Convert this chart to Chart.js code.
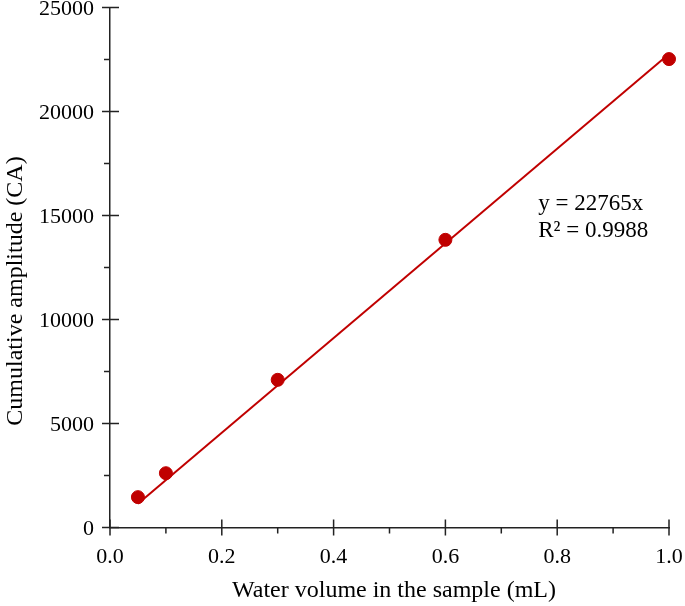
<!DOCTYPE html>
<html>
<head>
<meta charset="utf-8">
<script src="https://cdn.jsdelivr.net/npm/chart.js@4"></script>
<style>
  html, body { margin: 0; padding: 0; background: #fff; }
  #wrap { width: 685px; height: 606px; }
</style>
</head>
<body>
<div id="wrap"><canvas id="chart" width="685" height="606"></canvas></div>
<script>
// measured points
const waterVolume = [0.05, 0.1, 0.3, 0.6, 1.0];
const amplitude = [1460, 2610, 7100, 13830, 22520];
// fitted line y = 22765x
const fitX = [0.05, 1.0];
const fitY = [1138, 22765];
const xTicks = [0, 0.2, 0.4, 0.6, 0.8, 1.0];
const yTicks = [0, 5000, 10000, 15000, 20000, 25000];
const xTitle = 'Water volume in the sample (mL)';
const yTitle = 'Cumulative amplitude (CA)';
const equationText = ['y = 22765x', 'R\u00b2 = 0.9988'];

const red = '#c00000';
const axisColor = '#222';
const textColor = '#000';
const serif = '"Liberation Serif", "Times New Roman", serif';

// tick marks (major ones cross the axis, minor ones point outward), titles, equation
const decorations = {
  id: 'decorations',
  afterDraw(chart) {
    const ctx = chart.ctx;
    const xs = chart.scales.x, ys = chart.scales.y;
    const x0 = xs.left, y0 = ys.bottom;
    ctx.save();
    ctx.strokeStyle = axisColor;
    ctx.lineWidth = 1.5;
    ctx.beginPath();
    for (let i = 0; i <= 10; i++) {
      const px = xs.getPixelForValue(i / 10);
      if (i % 2 === 0) { ctx.moveTo(px, y0 - 8); ctx.lineTo(px, y0 + 8); }
      else { ctx.moveTo(px, y0); ctx.lineTo(px, y0 + 6); }
    }
    for (let i = 0; i <= 10; i++) {
      const py = ys.getPixelForValue(i * 2500);
      if (i % 2 === 0) { ctx.moveTo(x0 - 8, py); ctx.lineTo(x0 + 9, py); }
      else { ctx.moveTo(x0 - 6, py); ctx.lineTo(x0, py); }
    }
    ctx.stroke();

    ctx.fillStyle = textColor;
    ctx.textBaseline = 'middle';

    // axis titles
    ctx.font = '24px ' + serif;
    ctx.textAlign = 'center';
    ctx.fillText(xTitle, 394, 591);
    ctx.save();
    ctx.translate(16, 291);
    ctx.rotate(-Math.PI / 2);
    ctx.fillText(yTitle, 0, 0);
    ctx.restore();

    // regression text
    ctx.font = '23px ' + serif;
    ctx.textAlign = 'left';
    const tx = xs.getPixelForValue(0.766);
    ctx.fillText(equationText[0], tx, ys.getPixelForValue(15540));
    ctx.fillText(equationText[1], tx, ys.getPixelForValue(14240));
    ctx.restore();
  }
};

new Chart(document.getElementById('chart'), {
  type: 'scatter',
  data: {
    datasets: [
      {
        label: 'fit',
        type: 'line',
        data: fitX.map((x, i) => ({ x: x, y: fitY[i] })),
        borderColor: red,
        borderWidth: 2,
        pointRadius: 0,
        fill: false,
        tension: 0,
        clip: false
      },
      {
        label: 'samples',
        data: waterVolume.map((x, i) => ({ x: x, y: amplitude[i] })),
        backgroundColor: red,
        borderColor: red,
        pointRadius: 6.5,
        pointHoverRadius: 6.5,
        clip: false
      }
    ]
  },
  options: {
    responsive: false,
    animation: false,
    layout: { padding: { left: 0, right: 16, top: 7, bottom: 0 } },
    plugins: { legend: { display: false }, tooltip: { enabled: false } },
    scales: {
      x: {
        type: 'linear',
        min: 0,
        max: 1,
        afterBuildTicks: s => { s.ticks = xTicks.map(v => ({ value: v })); },
        afterFit: s => { s.height = 78.5; s.paddingLeft = 0; s.paddingRight = 0; },
        grid: { display: true, drawOnChartArea: false, drawTicks: false },
        border: { display: true, color: axisColor, width: 1.5 },
        ticks: {
          padding: 17,
          color: textColor,
          font: { family: serif, size: 22 },
          callback: v => v.toFixed(1)
        },
        title: { display: false }
      },
      y: {
        type: 'linear',
        min: 0,
        max: 25000,
        afterBuildTicks: s => { s.ticks = yTicks.map(v => ({ value: v })); },
        afterFit: s => { s.width = 110; s.paddingTop = 0; s.paddingBottom = 0; },
        grid: { display: true, drawOnChartArea: false, drawTicks: false },
        border: { display: true, color: axisColor, width: 1.5 },
        ticks: {
          padding: 16,
          labelOffset: 2,
          color: textColor,
          font: { family: serif, size: 22 },
          callback: v => String(v)
        },
        title: { display: false }
      }
    }
  },
  plugins: [decorations]
});
</script>
</body>
</html>
